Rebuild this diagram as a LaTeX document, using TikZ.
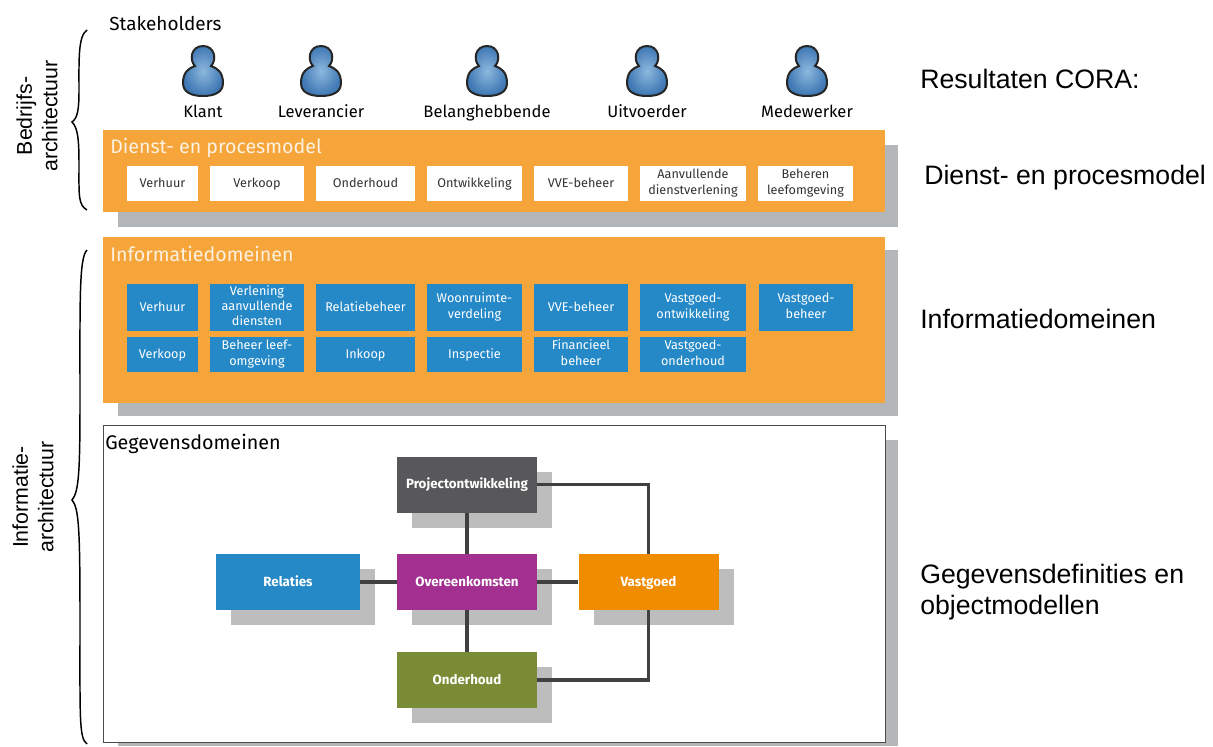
\documentclass[tikz,border=0pt]{standalone}
\usepackage{fontspec}
\setmainfont{Fira Sans}
\newfontfamily\arialfont{Liberation Sans}
\usetikzlibrary{calc}
\definecolor{panelorange}{HTML}{F5A53A}
\definecolor{shadowgrey}{HTML}{B4B7BA}
\definecolor{domainblue}{HTML}{2589C8}
\definecolor{entitypurple}{HTML}{A33090}
\definecolor{entityorange}{HTML}{F08C00}
\definecolor{entitygreen}{HTML}{7A8B35}
\definecolor{entitygrey}{HTML}{58585A}
\definecolor{personlight}{HTML}{8DB8DE}
\definecolor{persondark}{HTML}{3F78B4}
\newcommand{\boxstrut}{\rule[-0.24\baselineskip]{0pt}{\baselineskip}}
\tikzset{
	panel/.style={fill=panelorange},
	shadowbox/.style={fill=shadowgrey},
	strutted/.style={execute at begin node=\boxstrut,execute at end node=\boxstrut},
	dienstbox/.style={fill=white,align=center,strutted,font=\fontsize{9.5}{11.5}\selectfont,text=black!80},
	domainbox/.style={fill=domainblue,align=center,strutted,font=\fontsize{9.5}{11.5}\selectfont,text=white},
	entity/.style={minimum width=105pt,minimum height=42pt,inner sep=0pt,strutted,font=\fontsize{10}{12}\bfseries\selectfont,text=white},
	entityshadow/.style={fill=black!26,minimum width=105pt,minimum height=42pt},
	link/.style={draw=black!75,line width=2.4pt},
	reslabel/.style={anchor=west,inner sep=0pt,font=\arialfont\fontsize{20}{23.5}\selectfont,align=left},
	sidelabel/.style={rotate=90,align=center,font=\arialfont\fontsize{16}{19}\selectfont},
	curly/.style={line width=1.1pt},
	paneltitle/.style={anchor=west,inner sep=0pt,text=white!85!panelorange,font=\fontsize{14.7}{17}\selectfont},
}
\begin{document}
\begin{tikzpicture}[x=0.75pt,y=-0.75pt]
	\useasboundingbox (0,0) rectangle (1213,746);

	% grey shadows and panels
	\fill [shadowbox] (118,145) rectangle (898,227);
	\fill [panel] (103,130) rectangle (885,212);
	\fill [shadowbox] (118,250) rectangle (898,416);
	\fill [panel] (103,237) rectangle (885,403);
	\fill [shadowbox] (118,440) rectangle (898,746);
	\draw [fill=white,draw=black!70] (103,425) rectangle (885,742);

	% stakeholders
	\node (stakeholders) [anchor=west,inner sep=0pt,font=\fontsize{14.2}{16}\selectfont] at (109,24) {Stakeholders};
	\foreach \x/\n/\t in {203/klant/Klant,321/leverancier/Leverancier,487/belang/Belanghebbende,647/uitvoerder/Uitvoerder,807/medewerker/Medewerker}
	{
		\draw [draw=black!85,line width=1.5pt,inner color=personlight,outer color=persondark] (\x-20,83)
			.. controls (\x-20,72) and (\x-14,68) .. (\x-8,66)
			.. controls (\x-14,60) and (\x-12,46) .. (\x,46)
			.. controls (\x+12,46) and (\x+14,60) .. (\x+8,66)
			.. controls (\x+14,68) and (\x+20,72) .. (\x+20,83)
			.. controls (\x+20,92) and (\x+12,96) .. (\x,96)
			.. controls (\x-12,96) and (\x-20,92) .. (\x-20,83) -- cycle;
		\node (\n) [strutted,inner sep=0pt,font=\fontsize{12.4}{14}\selectfont] at (\x,113) {\t};
	}

	% panel titles
	\node (dienst) [paneltitle] at (110,148) {Dienst- en procesmodel};
	\node (info) [paneltitle] at (110,254) {Informatiedomeinen};
	\node (gegevens) [anchor=west,inner sep=0pt,font=\fontsize{14.8}{17}\selectfont] at (105,444) {Gegevensdomeinen};

	% boxes of the orange panels
	\foreach \a/\b/\n/\t in {127/198/dverhuur/Verhuur,210/304/dverkoop/Verkoop,316/415/donderhoud/Onderhoud,427/522/dontw/Ontwikkeling,534/628/dvve/VVE-beheer,640/746/daanv/{Aanvullende\\dienstverlening},758/853/dbeheren/{Beheren\\leefomgeving}}
		\node (\n) [dienstbox,inner sep=0pt,minimum width={(\b-\a)*0.75pt},minimum height=26.25pt] at ({(\a+\b)/2},183.5) {\t};
	\foreach \a/\b/\n/\t in {127/198/iverhuur/Verhuur,210/304/iverlening/{Verlening\\aanvullende\\diensten},316/415/irelatie/Relatiebeheer,427/522/iwoon/{Woonruimte-\\verdeling},534/628/ivve/VVE-beheer,640/746/iontw/{Vastgoed-\\ontwikkeling},759/853/ibeheer/{Vastgoed-\\beheer}}
		\node (\n) [domainbox,inner sep=0pt,minimum width={(\b-\a)*0.75pt},minimum height=35.25pt] at ({(\a+\b)/2},307.5) {\t};
	\foreach \a/\b/\n/\t in {127/198/iverkoop/Verkoop,210/304/ileef/{Beheer leef-\\omgeving},316/415/iinkoop/Inkoop,427/522/iinspectie/Inspectie,534/628/ifin/{Financieel\\beheer},640/746/ionder/{Vastgoed-\\onderhoud}}
		\node (\n) [domainbox,inner sep=0pt,minimum width={(\b-\a)*0.75pt},minimum height=26.25pt] at ({(\a+\b)/2},354.5) {\t};

	% data domains
	\foreach \x/\y in {467/484.5,467/582,648.5/582,467/680}
		\node [entityshadow,inner sep=0pt] at (\x+15,\y+15) {};
	\node [entityshadow,inner sep=0pt,minimum width=108pt] at (303,597) {};

	\node (project) [entity,fill=entitygrey] at (467,484.5) {Projectontwikkeling};
	\node (overeen) [entity,fill=entitypurple] at (467,582) {Overeenkomsten};
	\node (relaties) [entity,fill=domainblue,minimum width=108pt] at (288,582) {Relaties};
	\node (vastgoed) [entity,fill=entityorange] at (648.5,582) {Vastgoed};
	\node (onderhoud) [entity,fill=entitygreen] at (467,680) {Onderhoud};

	\draw [link] (project) -- (overeen);
	\draw [link] (overeen) -- (onderhoud);
	\draw [link] (relaties) -- (overeen);
	\draw [link] (overeen) -- (vastgoed);
	\draw [link] (project) -| (vastgoed);
	\draw [link] (onderhoud) -| (vastgoed);

	% braces
	\coordinate (topA) at (87,30);
	\coordinate (tipA) at (72,122);
	\coordinate (botA) at (87,210);
	\draw [curly] (topA) .. controls (78,36) and (79,60) .. (79,90) .. controls (79,108) and (78,118) .. (tipA) .. controls (78,128) and (79,140) .. (79,165) .. controls (79,195) and (78,205) .. (botA);
	\coordinate (topB) at (87,250);
	\coordinate (tipB) at (72,500);
	\coordinate (botB) at (87,744);
	\draw [curly] (topB) .. controls (79,258) and (80,300) .. (80,400) .. controls (80,470) and (79,492) .. (tipB) .. controls (79,508) and (80,530) .. (80,620) .. controls (80,720) and (79,738) .. (botB);

	\node (bedrijf) [sidelabel] at (37,116) {Bedrijfs-\\architectuur};
	\node (informatie) [sidelabel] at (33,497) {Informatie-\\architectuur};

	% right column
	\node (res1) [reslabel] at (920,79) {Resultaten CORA:};
	\node (res2) [reslabel] at (924,178) {Dienst- en procesmodel};
	\node (res3) [reslabel] at (920,319) {Informatiedomeinen};
	\node (res4) [reslabel] at (920,592) {Gegevensdefinities en\\objectmodellen};
\end{tikzpicture}
\end{document}
